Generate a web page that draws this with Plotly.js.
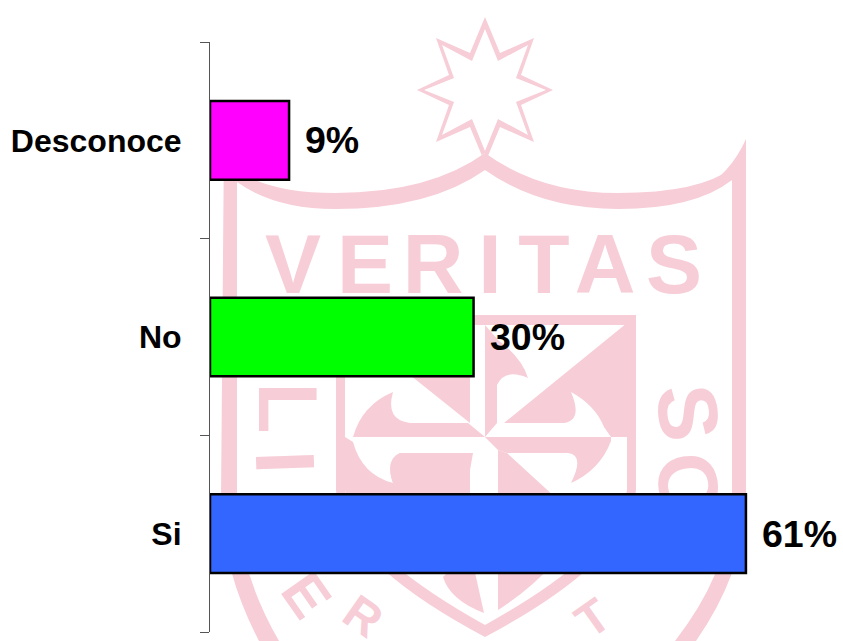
<!DOCTYPE html>
<html>
<head>
<meta charset="utf-8">
<script src="https://cdn.plot.ly/plotly-3.0.1.min.js"></script>
<style>
  html, body { margin: 0; padding: 0; background: #fff; }
  #chart { width: 843px; height: 641px; }
</style>
</head>
<body>
<div id="chart"></div>
<script>
// Chart data:
const categories = ["Si", "No", "Desconoce"];
const percents = [61, 30, 9];
const bar_colors = ["#3366ff", "#00ff00", "#ff00ff"];

const pink = "#f7cdd7";
const white = "#ffffff";
const margin = {l: 210, r: 18, t: 42, b: 9};
const plot_w = 843 - margin.l - margin.r;
const plot_h = 641 - margin.t - margin.b;

// Watermark is drawn in page pixels, this turns them into paper coordinates
const to_paper = path => {
    let is_x = true;
    return path.replace(/-?\d+(\.\d+)?/g, n => {
        const v = is_x ? (n - margin.l) / plot_w : (641 - margin.b - n) / plot_h;
        is_x = !is_x;
        return v.toFixed(5);
    });
};
const blob = (path, color) => ({
    type: "path", xref: "paper", yref: "paper", layer: "below",
    path: to_paper(path), fillcolor: color, line: {width: 0}
});
const letter = (text, x, y, angle, size) => ({
    type: "rect", xref: "paper", yref: "paper", layer: "below",
    x0: (x - 10 - margin.l) / plot_w, x1: (x + 10 - margin.l) / plot_w,
    y0: (641 - margin.b - y - 10) / plot_h, y1: (641 - margin.b - y + 10) / plot_h,
    line: {width: 0}, fillcolor: "rgba(0,0,0,0)",
    label: {
        text: text, textangle: angle, textposition: "middle center",
        font: {family: "Liberation Sans", size: size, color: pink, weight: "bold"}
    }
});

const watermark = [
    // Star
    blob("M 485 17 L 500 53 L 534 38 L 521 75 L 553 90 L 521 105 L 534 142 L 500 127 L 485 163 L 470 127 L 436 142 L 449 105 L 417 90 L 449 75 L 436 38 L 470 53 Z", pink),
    blob("M 485 29 L 498 61 L 528 45 L 516 78 L 546 90 L 516 102 L 528 135 L 498 119 L 485 151 L 472 119 L 442 135 L 454 102 L 424 90 L 454 78 L 442 45 L 472 61 Z", white),
    // Outer shield
    blob("M 224 139 Q 252 209 335 209 Q 430 209 485 170 Q 540 209 618 209 Q 715 209 746 139 L 746 500 Q 745 570 696 641 L 259 641 Q 222 570 221 500 Z", pink),
    blob("M 237 182 Q 270 193 335 193 Q 430 193 485 153 L 485 170 Q 540 193 618 193 Q 700 193 732 180 L 732 500 Q 730 570 675 641 L 279 641 Q 238 570 237 500 Z", white),
    blob("M 237 182 Q 275 209 335 209 Q 430 209 485 170 Q 540 209 618 209 Q 695 209 732 180 L 732 168 Q 700 193 618 193 Q 540 193 485 153 Q 430 193 335 193 Q 270 193 237 170 Z", pink),
    // Inner shield
    blob("M 336 315 L 636 315 L 636 490 Q 630 560 485 637 Q 340 560 336 490 Z", pink),
    blob("M 345 325 L 627 325 L 627 490 Q 620 550 485 625 Q 350 550 345 490 Z", white),
    // Quartered cross, top left
    blob("M 345 323 L 470 323 L 470 423 Z", pink),
    blob("M 353 437 Q 362 405 393 392 Q 385 420 410 423 L 468 423 L 485 437 Z", pink),
    // Top right
    blob("M 627 323 L 636 323 L 636 437 L 611 437 L 604 427 Q 595 405 571 392 Q 583 420 564 423 L 504 423 Z", pink),
    blob("M 485 325 L 498 340 Q 522 358 528 378 Q 505 368 497 385 L 497 423 L 485 437 Z", pink),
    // Bottom right
    blob("M 485 437 L 611 437 L 611 441 Q 600 470 571 483 Q 585 455 568 453 L 507 453 L 498 450 Z", pink),
    blob("M 498 450 L 507 453 L 580 520 Q 560 570 498 610 Z", pink),
    // Bottom left
    blob("M 353 442 L 485 437 L 473 453 L 400 453 Q 385 460 393 483 Q 362 475 353 442 Z", white),
    blob("M 345 437 L 353 442 Q 362 475 393 483 Q 385 460 400 453 L 473 453 L 470 470 L 470 520 L 382 573 Q 350 530 345 490 Z", pink),
    blob("M 400 453 L 462 453 L 400 510 Q 388 490 393 483 Q 385 460 400 453 Z", pink),
    blob("M 443 577 L 470 550 L 484 613 Q 450 600 443 577 Z", pink),
    // Motto letters
    letter("V", 293, 256, 0, 84), letter("E", 365, 256, 0, 84), letter("R", 433, 256, 0, 84),
    letter("I", 490, 256, 0, 84), letter("T", 544, 256, 0, 84), letter("A", 605, 256, 0, 84), letter("S", 674, 256, 0, 84),
    letter("L", 296, 408, 90, 84), letter("I", 293, 462, 88, 84),
    letter("S", 696, 412, 84, 84), letter("O", 696, 484, 80, 84),
    letter("E", 311, 592, 55, 58), letter("R", 366, 612, 35, 48), letter("T", 590, 614, -35, 48)
];

const bars_trace = [{
    type: "bar",
    orientation: "h",
    x: percents,
    y: categories,
    width: 0.4,
    marker: {
        color: bar_colors,
        line: {color: "#000000", width: 2.5}
    },
    hoverinfo: "skip"
}];

const percent_labels = categories.map((cat, i) => ({
    x: percents[i],
    y: cat,
    text: percents[i] + "%",
    showarrow: false,
    xanchor: "left",
    xshift: 14,
    font: {family: "Liberation Sans", size: 37.5, color: "#000000", weight: "bold"}
}));

Plotly.newPlot("chart", bars_trace, {
    width: 843,
    height: 641,
    margin: margin,
    showlegend: false,
    plot_bgcolor: "rgba(0,0,0,0)",
    paper_bgcolor: "#ffffff",
    shapes: watermark,
    annotations: percent_labels,

    xaxis: {
        range: [0, 70],
        visible: false,
        fixedrange: true
    },

    yaxis: {
        type: "category",
        categoryorder: "array",
        categoryarray: categories,
        range: [-0.5, 2.5],
        showline: true,
        linecolor: "#555555",
        linewidth: 1,
        showgrid: false,
        zeroline: false,
        ticks: "outside",
        tickson: "boundaries",
        ticklen: 9,
        tickwidth: 1,
        tickcolor: "#555555",
        ticklabelstandoff: 21,
        tickfont: {family: "Liberation Sans", size: 32, color: "#000000", weight: "bold"},
        fixedrange: true
    }
}, {displayModeBar: false, staticPlot: true});
</script>
</body>
</html>
